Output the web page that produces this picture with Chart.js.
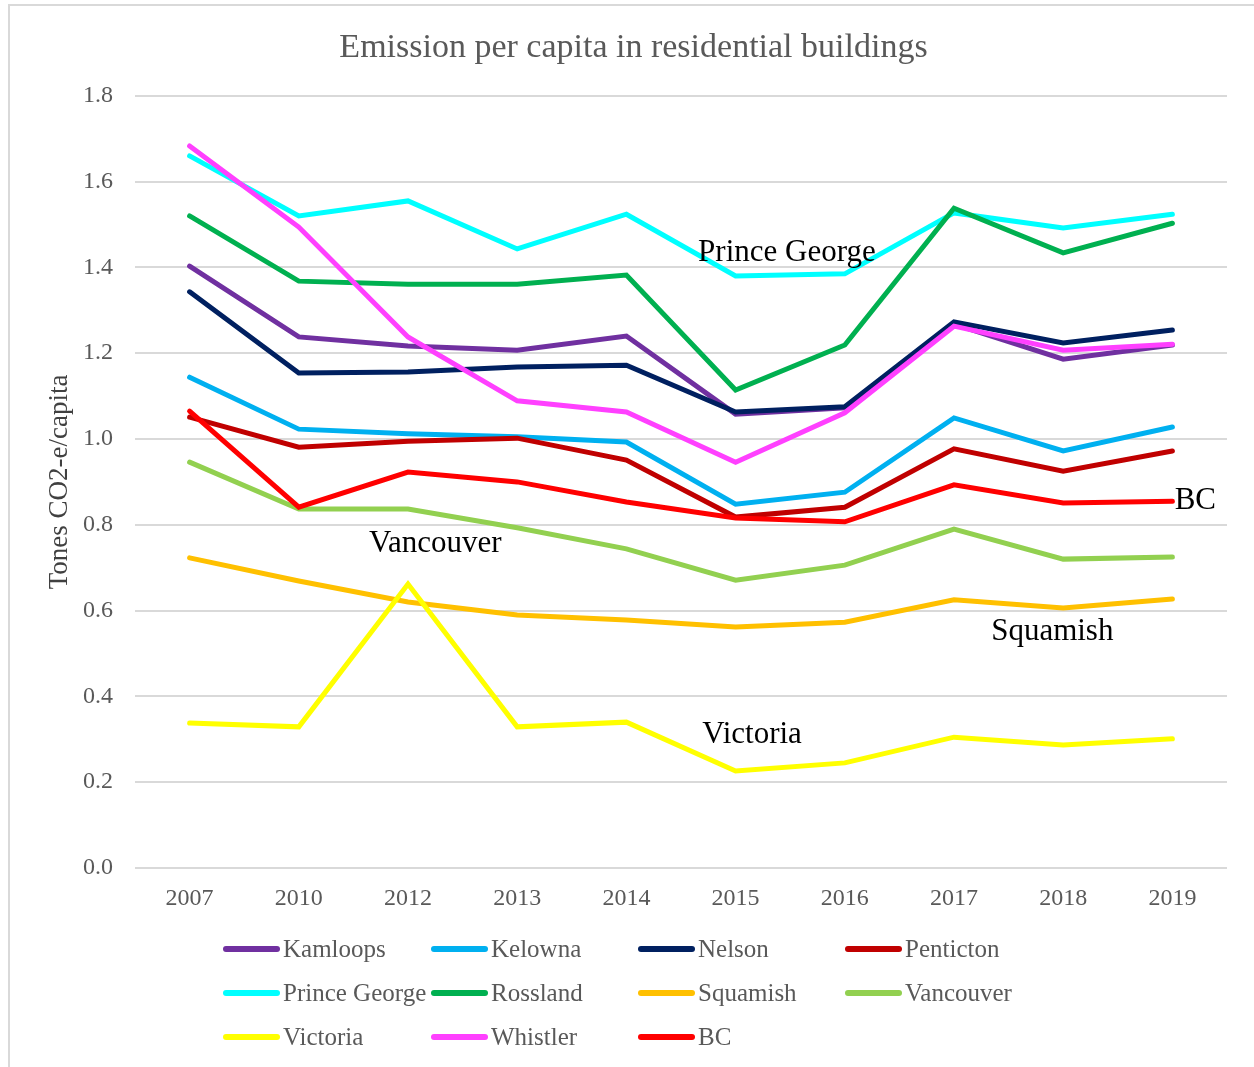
<!DOCTYPE html>
<html>
<head>
<meta charset="utf-8">
<script src="https://cdn.jsdelivr.net/npm/chart.js@4.4.1/dist/chart.umd.min.js"></script>
<style>
  body { margin: 0; background: #fff; }
  #wrap { position: relative; width: 1254px; height: 1067px; }
  #frame { position: absolute; left: 8px; top: 4px; right: -4px; bottom: -4px; border-left: 2px solid #d9d9d9; border-top: 2px solid #d9d9d9; }
  #myChart { position: absolute; left: 0; top: 0; }
  #legend { position: absolute; left: 223px; top: 927px; display: grid; grid-template-columns: 208px 207px 207px 207px; grid-auto-rows: 44px; }
  .item { display: flex; align-items: center; font-family: "Liberation Serif", serif; font-size: 25px; color: #595959; white-space: nowrap; }
  .swatch { width: 57px; height: 6px; border-radius: 3px; margin-right: 3px; flex: none; }
</style>
</head>
<body>
<div id="wrap">
  <div id="frame"></div>
  <canvas id="myChart" width="1254" height="1067"></canvas>
  <div id="legend"></div>
</div>
<script>
// years on the x axis
const years = ['2007', '2010', '2012', '2013', '2014', '2015', '2016', '2017', '2018', '2019'];

// tonnes CO2-e per capita
const kamloops     = [1.403, 1.238, 1.217, 1.207, 1.240, 1.058, 1.073, 1.268, 1.186, 1.219];
const kelowna      = [1.144, 1.023, 1.012, 1.005, 0.993, 0.848, 0.876, 1.049, 0.972, 1.028];
const nelson       = [1.343, 1.154, 1.156, 1.168, 1.172, 1.063, 1.075, 1.273, 1.224, 1.254];
const penticton    = [1.051, 0.981, 0.995, 1.002, 0.951, 0.818, 0.841, 0.977, 0.925, 0.972];
const princeGeorge = [1.660, 1.520, 1.555, 1.443, 1.524, 1.380, 1.385, 1.527, 1.492, 1.524];
const rossland     = [1.520, 1.368, 1.361, 1.361, 1.382, 1.114, 1.219, 1.538, 1.434, 1.503];
const squamish     = [0.723, 0.669, 0.620, 0.590, 0.578, 0.562, 0.573, 0.625, 0.606, 0.627];
const vancouver    = [0.946, 0.837, 0.837, 0.793, 0.744, 0.671, 0.706, 0.790, 0.720, 0.725];
const victoria     = [0.338, 0.329, 0.662, 0.329, 0.340, 0.226, 0.245, 0.305, 0.287, 0.301];
const whistler     = [1.683, 1.494, 1.238, 1.089, 1.063, 0.946, 1.061, 1.263, 1.207, 1.221];
const bc           = [1.065, 0.841, 0.923, 0.900, 0.853, 0.816, 0.807, 0.893, 0.851, 0.855];

const names  = ['Kamloops', 'Kelowna', 'Nelson', 'Penticton', 'Prince George', 'Rossland', 'Squamish', 'Vancouver', 'Victoria', 'Whistler', 'BC'];
const values = [kamloops, kelowna, nelson, penticton, princeGeorge, rossland, squamish, vancouver, victoria, whistler, bc];
const colors = ['#7030A0', '#00B0F0', '#002060', '#C00000', '#00FFFF', '#00B050', '#FFC000', '#92D050', '#FFFF00', '#FF40FF', '#FF0000'];

// labels written inside the plot (x = category index, y = value)
const notes = [
  { text: 'Prince George', x: 5.47, y: 1.434 },
  { text: 'Vancouver', x: 2.25, y: 0.755 },
  { text: 'BC', x: 9.21, y: 0.855 },
  { text: 'Squamish', x: 7.90, y: 0.550 },
  { text: 'Victoria', x: 5.15, y: 0.310 }
];

const serif = '"Liberation Serif", serif';

const notesPlugin = {
  id: 'notes',
  afterDatasetsDraw: function (chart) {
    const ctx = chart.ctx;
    const xs = chart.scales.x, ys = chart.scales.y;
    ctx.save();
    ctx.font = '31px ' + serif;
    ctx.fillStyle = '#000';
    ctx.textAlign = 'center';
    ctx.textBaseline = 'middle';
    notes.forEach(function (n) {
      ctx.fillText(n.text, xs.getPixelForValue(n.x), ys.getPixelForValue(n.y));
    });
    ctx.restore();
  }
};

const htmlLegend = {
  id: 'htmlLegend',
  afterUpdate: function (chart) {
    const box = document.getElementById('legend');
    box.innerHTML = '';
    const items = chart.options.plugins.legend.labels.generateLabels(chart);
    items.sort(function (a, b) { return a.datasetIndex - b.datasetIndex; });
    items.forEach(function (it) {
      const d = document.createElement('div');
      d.className = 'item';
      const s = document.createElement('span');
      s.className = 'swatch';
      s.style.background = it.strokeStyle;
      d.appendChild(s);
      d.appendChild(document.createTextNode(it.text));
      box.appendChild(d);
    });
  }
};

const datasets = names.map(function (n, i) {
  return {
    label: n,
    data: values[i],
    borderColor: colors[i],
    backgroundColor: colors[i],
    borderWidth: 5,
    borderCapStyle: 'round',
    pointRadius: 0,
    tension: 0,
    order: names.length - i
  };
});

var area = document.getElementById('myChart').getContext('2d');
var urChart = new Chart(area, {
  type: 'line',
  data: { labels: years, datasets: datasets },
  plugins: [notesPlugin, htmlLegend],
  options: {
    responsive: false,
    animation: false,
    layout: { padding: { left: 40, right: 27, top: 10, bottom: 0 } },
    scales: {
      x: {
        offset: true,
        grid: { display: false, drawTicks: false },
        border: { display: false },
        ticks: { color: '#595959', font: { family: serif, size: 24 }, padding: 16, maxRotation: 0 },
        afterFit: function (s) { s.height = 199; }
      },
      y: {
        min: 0,
        max: 1.8,
        grid: { color: '#d9d9d9', lineWidth: 2, drawTicks: false },
        border: { display: false },
        ticks: {
          stepSize: 0.2,
          color: '#595959',
          font: { family: serif, size: 24 },
          padding: 22,
          callback: function (v) { return v.toFixed(1); }
        },
        title: {
          display: true,
          text: 'Tones CO2-e/capita',
          color: '#404040',
          font: { family: serif, size: 27, weight: 'normal' },
          padding: { top: 4, bottom: 0 }
        },
        afterFit: function (s) { s.width = 95; }
      }
    },
    plugins: {
      title: {
        display: true,
        text: 'Emission per capita in residential buildings',
        color: '#595959',
        font: { family: serif, size: 34, weight: 'normal' },
        padding: { top: 18, bottom: 27 }
      },
      legend: { display: false },
      tooltip: { enabled: false }
    }
  }
});
</script>
</body>
</html>
